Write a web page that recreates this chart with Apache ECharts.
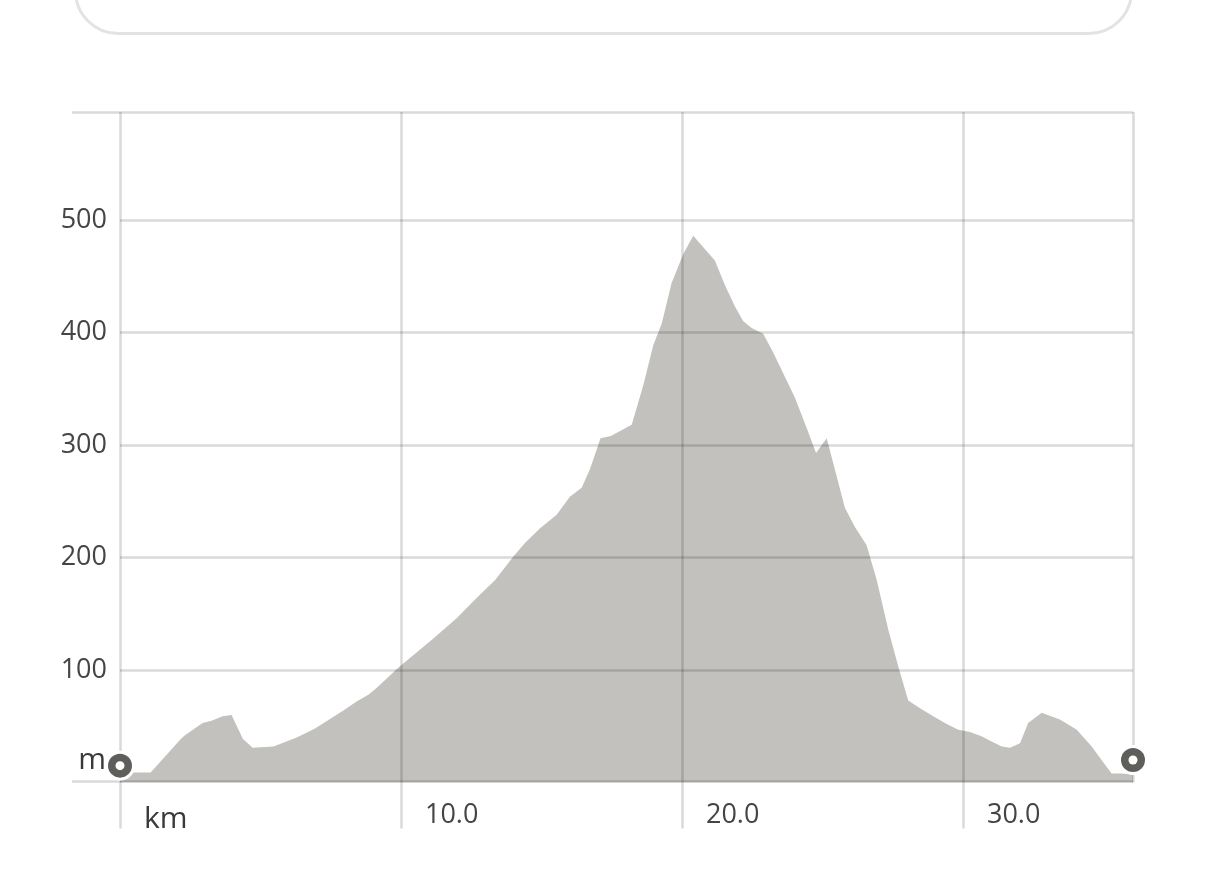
<!DOCTYPE html>
<html>
<head>
<meta charset="utf-8">
<script src="https://cdn.jsdelivr.net/npm/echarts@6/dist/echarts.min.js"></script>
<style>
    html, body { margin: 0; padding: 0; background: #fff; overflow: hidden; }
    #box { position: absolute; left: 74px; top: -60px; width: 1059px; height: 95px; box-sizing: border-box;
           border: 3px solid #e3e3e3; border-radius: 44px; }
    #profile_chart { position: absolute; left: 0; top: 0; width: 1206px; height: 881px; }
</style>
</head>
<body>
<div id="box"></div>
<div id="profile_chart"></div>
<script>
// distance (km) / elevation (m)
var distKm = [0, 1.09, 2.14, 2.31, 2.94, 3.26, 3.65, 3.97, 4.37, 4.72, 5.46, 6.29, 6.94, 7.95, 8.42, 8.84, 9.13, 9.9,
    11.1, 11.98, 12.69, 13.35, 14.0, 14.41, 14.95, 15.54, 16.01, 16.43, 16.73, 17.1, 17.47, 18.21, 18.62, 18.98,
    19.28, 19.63, 20.05, 20.4, 21.17, 21.53, 21.89, 22.18, 22.48, 22.89, 23.25, 24.02, 24.44, 24.77, 25.15, 25.8,
    26.16, 26.57, 26.93, 27.34, 27.7, 28.05, 28.47, 28.94, 29.42, 29.83, 30.25, 30.68, 31.05, 31.38, 31.67, 32.03,
    32.32, 32.8, 33.45, 34.05, 34.58, 34.99, 35.29, 35.65, 36.05];
var elevM = [9, 9, 38, 42, 53, 55, 59, 60, 39, 31, 32, 40, 48, 64, 72, 78, 84, 102,
    127, 146, 164, 180, 201, 213, 226, 238, 254, 262, 279, 306, 308, 318, 353, 389,
    408, 444, 470, 486, 464, 442, 423, 410, 404, 399, 382, 342, 315, 293, 306, 244,
    227, 211, 180, 136, 103, 73, 66, 59, 52, 47, 45, 41, 36, 32, 31, 35,
    53, 62, 56, 47, 32, 18, 8, 8, 7];

// start / finish markers
var markerKm = [0, 36.05];
var markerElev = [15, 20];

var kmMax = 36.05;
var elevMax = 596;

var chartDom = document.getElementById('profile_chart');
var myChart = echarts.init(chartDom);

var profileData = distKm.map(function (d, i) { return [d, elevM[i]]; });
var markerData = markerKm.map(function (d, i) { return [d, markerElev[i]]; });

var gridLine = { color: 'rgba(0,0,0,0.15)', width: 2.5 };
var fontFamily = '"Open Sans", sans-serif';

function markerSeries(size, color) {
    return {
        type: 'scatter',
        xAxisIndex: 1,
        yAxisIndex: 1,
        data: markerData,
        symbol: 'circle',
        symbolSize: size,
        itemStyle: { color: color, opacity: 1 },
        silent: true,
        z: 10
    };
}

var option = {
    animation: false,
    grid: [
        // frame: top line and baseline reach further left
        { left: 72, right: 73, top: 112, bottom: 99.5 },
        { left: 120, right: 73, top: 112, bottom: 98.5 }
    ],
    xAxis: [
        { gridIndex: 0, type: 'value', min: 0, max: 1, show: false },
        {
            gridIndex: 1,
            type: 'value',
            min: 0,
            max: kmMax,
            interval: 10,
            z: 3,
            axisLine: { show: false },
            axisTick: { show: true, length: 46, lineStyle: gridLine },
            splitLine: { show: true, lineStyle: gridLine },
            axisLabel: {
                align: 'left',
                margin: 19,
                padding: [0, 0, 0, 24],
                color: '#454545',
                fontSize: 27,
                fontFamily: fontFamily,
                showMaxLabel: false,
                formatter: function (v) {
                    if (v === 0) return '{u|km}';
                    if (v % 10 !== 0) return '';
                    return v.toFixed(1);
                },
                rich: {
                    u: { fontSize: 30, color: '#3a3a3a', fontFamily: fontFamily, padding: [3, 0, 0, 0] }
                }
            }
        }
    ],
    yAxis: [
        {
            gridIndex: 0,
            type: 'value',
            min: 0,
            max: 1,
            interval: 1,
            z: 3,
            axisLine: { show: false },
            axisTick: { show: false },
            axisLabel: { show: false },
            splitLine: { show: true, lineStyle: gridLine }
        },
        {
            gridIndex: 1,
            type: 'value',
            min: 0,
            max: elevMax,
            interval: 100,
            z: 3,
            axisLine: { show: false },
            axisTick: { show: false },
            splitLine: { show: true, showMinLine: false, showMaxLine: false, lineStyle: gridLine },
            axisLabel: {
                margin: 13,
                color: '#454545',
                fontSize: 27,
                fontFamily: fontFamily,
                formatter: function (v) {
                    if (v === 0) return '{u|m}';
                    if (v % 100 !== 0) return '';
                    return v;
                },
                rich: {
                    u: { fontSize: 30, color: '#3a3a3a', fontFamily: fontFamily, padding: [0, 1, 44, 0] }
                }
            }
        }
    ],
    series: [
        {
            type: 'line',
            xAxisIndex: 1,
            yAxisIndex: 1,
            data: profileData,
            showSymbol: false,
            silent: true,
            lineStyle: { width: 0 },
            areaStyle: { color: '#c2c1bd', opacity: 1 },
            z: 1
        },
        markerSeries(30, '#ffffff'),
        markerSeries(24, '#5e5e5b'),
        markerSeries(9, '#ffffff')
    ]
};

option && myChart.setOption(option);
</script>
</body>
</html>
